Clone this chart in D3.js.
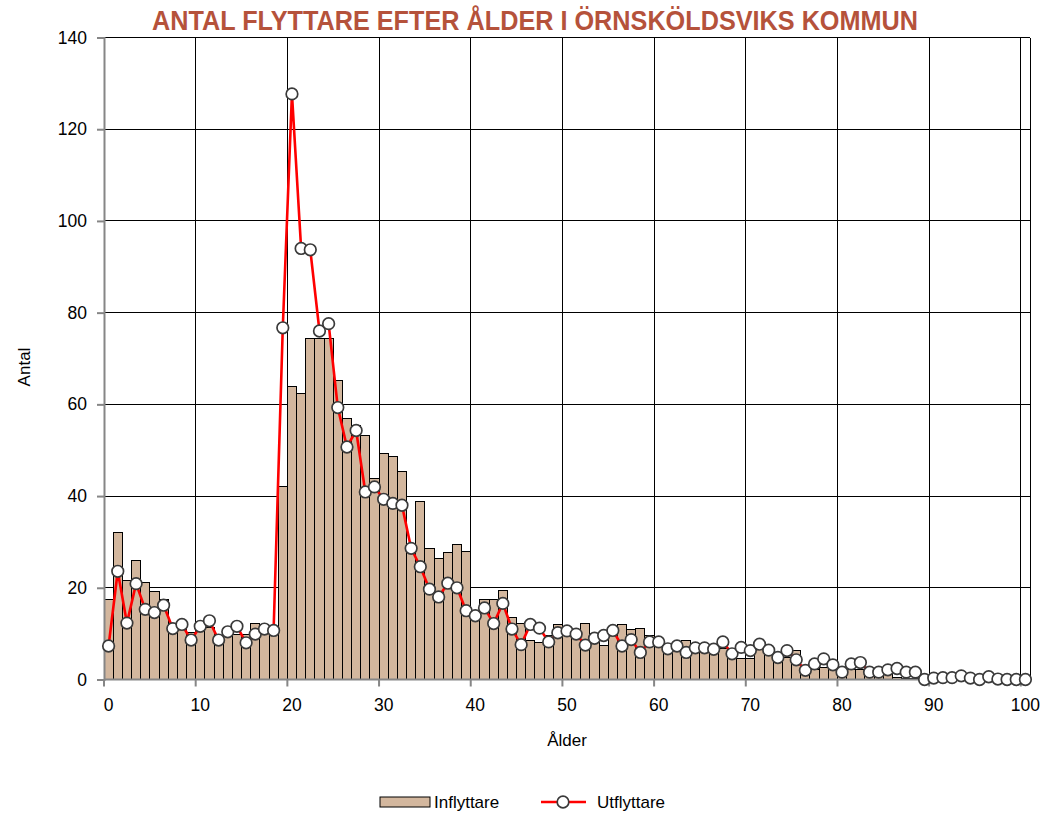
<!DOCTYPE html>
<html>
<head>
<meta charset="utf-8">
<script src="https://cdn.jsdelivr.net/npm/d3@7"></script>
<style>
  body { margin: 0; background: #fff; }
  svg { display: block; font-family: "Liberation Sans", Arial, sans-serif; }
</style>
</head>
<body>
<svg id="chart" width="1047" height="813"></svg>
<script>
// Ages 0..100 (categories)
const ages = d3.range(0, 101);
const xTickAges = [0, 10, 20, 30, 40, 50, 60, 70, 80, 90, 100];
const yTicks = [0, 20, 40, 60, 80, 100, 120, 140];

// Inflyttare (bars)
const inflyttare = [
  17.5, 32.0, 21.5, 25.9, 21.1, 19.2, 17.5, 11.5, 11.2, 10.2,
  11.2, 11.4, 9.0, 9.3, 9.9, 9.8, 12.3, 11.4, 11.4, 42.0,
  63.9, 62.3, 74.3, 74.3, 74.3, 65.3, 57.0, 55.3, 53.3, 43.9,
  49.3, 48.7, 45.3, 28.6, 38.9, 28.6, 26.3, 27.6, 29.5, 28.0,
  14.0, 17.5, 17.5, 19.5, 13.5, 12.2, 8.5, 8.0, 9.7, 11.9,
  11.0, 9.3, 12.3, 10.1, 7.5, 10.8, 11.9, 10.9, 11.2, 9.5,
  7.8, 7.5, 7.7, 8.5, 7.7, 7.5, 7.5, 6.8, 5.7, 4.6,
  4.6, 7.2, 6.1, 4.6, 4.9, 6.3, 1.0, 2.2, 2.7, 2.1,
  1.7, 2.1, 2.2, 1.3, 0.8, 1.0, 0.5, 0.3, 0.2, 0.2,
  0, 0, 0, 0, 0, 0, 0, 0, 0, 0,
  0
];

// Utflyttare (line with markers)
const utflyttare = [
  7.3, 23.6, 12.3, 20.9, 15.3, 14.6, 16.2, 11.1, 12.0, 8.6,
  11.6, 12.8, 8.6, 10.4, 11.6, 8.0, 9.9, 11.0, 10.7, 76.7,
  127.7, 94.0, 93.7, 76.0, 77.6, 59.3, 50.7, 54.3, 40.9, 42.0,
  39.3, 38.4, 38.0, 28.6, 24.6, 19.7, 18.0, 21.0, 20.0, 15.0,
  13.9, 15.6, 12.2, 16.6, 11.0, 7.6, 12.0, 11.2, 8.2, 10.2,
  10.6, 9.9, 7.5, 9.0, 9.6, 10.7, 7.3, 8.7, 5.9, 8.2,
  8.2, 6.7, 7.3, 5.9, 6.9, 6.9, 6.6, 8.2, 5.6, 7.0,
  6.3, 7.7, 6.4, 4.8, 6.3, 4.3, 2.0, 3.4, 4.5, 3.2,
  1.6, 3.4, 3.7, 1.6, 1.6, 2.1, 2.4, 1.6, 1.6, 0,
  0.3, 0.4, 0.4, 0.8, 0.3, 0, 0.6, 0.1, 0, 0,
  0
];

const BAR_FILL = "#d3b79e";
const LINE_RED = "#ff0000";
const AXIS_GRAY = "#868686";

const svg = d3.select("#chart");
const plotLeft = 104, plotRight = 1030, plotTop = 37.5, plotBottom = 679.5;

const x = d3.scaleBand().domain(ages).range([plotLeft, plotRight]).padding(0);
const y = d3.scaleLinear().domain([0, 140]).range([plotBottom, plotTop]);
const bw = x.bandwidth();

// Gridlines (behind the bars)
const grid = svg.append("g").attr("shape-rendering", "crispEdges");
grid.selectAll("line.h")
  .data(yTicks.filter((d) => d > 0))
  .join("line")
  .attr("class", "h")
  .attr("x1", plotLeft).attr("x2", plotRight)
  .attr("y1", (d) => y(d)).attr("y2", (d) => y(d))
  .attr("stroke", "#000").attr("stroke-width", 1);
grid.selectAll("line.v")
  .data(xTickAges.filter((d) => d > 0))
  .join("line")
  .attr("class", "v")
  .attr("x1", (d) => x(d)).attr("x2", (d) => x(d))
  .attr("y1", plotTop).attr("y2", plotBottom)
  .attr("stroke", "#000").attr("stroke-width", 1);
grid.append("line")
  .attr("x1", plotRight).attr("x2", plotRight)
  .attr("y1", plotTop).attr("y2", plotBottom)
  .attr("stroke", "#000");

// Bars
svg.append("g")
  .attr("shape-rendering", "crispEdges")
  .selectAll("rect")
  .data(ages)
  .join("rect")
  .attr("x", (d) => x(d))
  .attr("y", (d) => y(inflyttare[d]))
  .attr("width", bw)
  .attr("height", (d) => plotBottom - y(inflyttare[d]))
  .attr("fill", BAR_FILL)
  .attr("stroke", "#000")
  .attr("stroke-width", 1);

// Y axis
const yAxis = svg.append("g")
  .attr("transform", `translate(${plotLeft},0)`)
  .call(d3.axisLeft(y).tickValues(yTicks).tickSize(7).tickPadding(10));
yAxis.select(".domain").attr("stroke", AXIS_GRAY).attr("stroke-width", 2);
yAxis.selectAll(".tick line").attr("stroke", AXIS_GRAY).attr("stroke-width", 2);
yAxis.selectAll(".tick text")
  .attr("font-size", 17.5).attr("font-family", "Liberation Sans, Arial, sans-serif")
  .attr("fill", "#000");

// X axis: ticks at category edges, labels at category centres
const xAxis = svg.append("g")
  .attr("transform", `translate(0,${plotBottom})`)
  .call(d3.axisBottom(x).tickValues(xTickAges).tickSize(7).tickPadding(12));
xAxis.select(".domain").attr("d", `M${plotLeft},0H${plotRight}`)
  .attr("stroke", AXIS_GRAY).attr("stroke-width", 2);
xAxis.selectAll(".tick line")
  .attr("x1", -bw / 2).attr("x2", -bw / 2)
  .attr("stroke", AXIS_GRAY).attr("stroke-width", 2);
xAxis.selectAll(".tick text")
  .attr("font-size", 17.5).attr("font-family", "Liberation Sans, Arial, sans-serif")
  .attr("fill", "#000");

// Utflyttare line
const line = d3.line()
  .x((d) => x(d) + bw / 2)
  .y((d) => y(utflyttare[d]));
svg.append("path")
  .datum(ages)
  .attr("d", line)
  .attr("fill", "none")
  .attr("stroke", LINE_RED)
  .attr("stroke-width", 2.6);

svg.append("g")
  .selectAll("circle")
  .data(ages)
  .join("circle")
  .attr("cx", (d) => x(d) + bw / 2)
  .attr("cy", (d) => y(utflyttare[d]))
  .attr("r", 5.8)
  .attr("fill", "#fff")
  .attr("stroke", "#3a3a3a")
  .attr("stroke-width", 1.7);

// Title
svg.append("text")
  .attr("x", 535).attr("y", 30)
  .attr("text-anchor", "middle")
  .attr("font-family", "Liberation Sans Narrow, Arial Narrow, sans-serif")
  .attr("font-weight", "bold")
  .attr("font-size", 27)
  .attr("fill", "#b5523b")
  .attr("textLength", 766)
  .attr("lengthAdjust", "spacingAndGlyphs")
  .text("ANTAL FLYTTARE EFTER ÅLDER I ÖRNSKÖLDSVIKS KOMMUN");

// Axis titles
svg.append("text")
  .attr("x", 567).attr("y", 746)
  .attr("text-anchor", "middle")
  .attr("font-size", 17)
  .text("Ålder");
svg.append("text")
  .attr("transform", "translate(30,367) rotate(-90)")
  .attr("text-anchor", "middle")
  .attr("font-size", 17)
  .text("Antal");

// Legend
const legend = svg.append("g");
legend.append("rect")
  .attr("x", 380).attr("y", 797).attr("width", 50).attr("height", 10)
  .attr("fill", BAR_FILL).attr("stroke", "#000").attr("stroke-width", 1);
legend.append("text")
  .attr("x", 434).attr("y", 808)
  .attr("font-size", 17)
  .text("Inflyttare");
legend.append("line")
  .attr("x1", 541).attr("x2", 586).attr("y1", 802).attr("y2", 802)
  .attr("stroke", LINE_RED).attr("stroke-width", 2.6);
legend.append("circle")
  .attr("cx", 563).attr("cy", 802).attr("r", 5.8)
  .attr("fill", "#fff").attr("stroke", "#3a3a3a").attr("stroke-width", 1.7);
legend.append("text")
  .attr("x", 597).attr("y", 808)
  .attr("font-size", 17)
  .text("Utflyttare");
</script>
</body>
</html>
